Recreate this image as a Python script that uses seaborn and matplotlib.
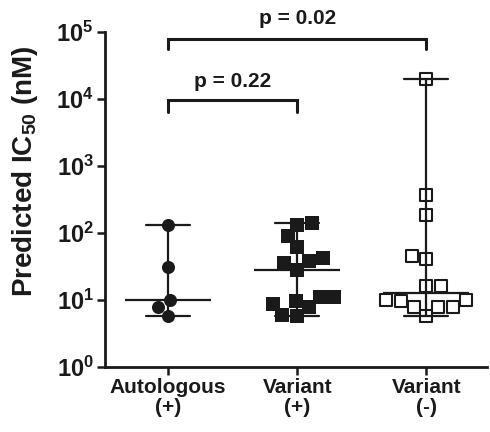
import numpy as np
import pandas as pd
import matplotlib
matplotlib.use("Agg")
import matplotlib.pyplot as plt
import seaborn as sns

categories = ["Autologous\n(+)", "Variant\n(+)", "Variant\n(-)"]
autologous = [131, 31, 10, 7.9, 5.8]
variant_pos = [140, 131, 91, 63, 43, 38.6, 36, 28.6, 11, 11, 9.8, 8.7, 7.8, 6.0, 5.8]
variant_neg = [20000, 375, 186, 45, 40.5, 16, 16, 10.2, 10.2, 9.8, 7.9, 7.9, 7.8, 5.8]
yticks = [1, 10, 100, 1000, 10000, 100000]
ytick_labels = [r"$\mathbf{10^{%d}}$" % i for i in range(6)]
p_labels = ["p = 0.22", "p = 0.02"]

df = pd.DataFrame({
    "group": [categories[0]] * len(autologous) + [categories[1]] * len(variant_pos) + [categories[2]] * len(variant_neg),
    "ic50": autologous + variant_pos + variant_neg,
})

sns.set_theme(style="white")
plt.rcParams["font.family"] = ["Liberation Sans", "DejaVu Sans"]
plt.rcParams["font.weight"] = "bold"
plt.rcParams["mathtext.fontset"] = "custom"
plt.rcParams["mathtext.rm"] = "Liberation Sans:bold"
plt.rcParams["mathtext.bf"] = "Liberation Sans:bold"
plt.rcParams["mathtext.it"] = "Liberation Sans:bold"

fig = plt.figure(figsize=(4.9, 4.32), dpi=100)
ax = fig.add_axes([0.214, 0.150, 0.78, 0.776])
ax.set_yscale("log")
ax.set_ylim(1, 1e5)

styles = [
    dict(marker="o", color="#1a1a1a", edgecolor="#1a1a1a", linewidth=0, size=9.4),
    dict(marker="s", color="#1a1a1a", edgecolor="#1a1a1a", linewidth=0, size=10.2),
    dict(marker="s", color="white", edgecolor="#1a1a1a", linewidth=1.5, size=8.8),
]
for cat, st in zip(categories, styles):
    sub = df[df["group"] == cat]
    sns.swarmplot(data=sub, x="group", y="ic50", order=categories, ax=ax, zorder=3, **st)

# median with range
sns.pointplot(data=df, x="group", y="ic50", order=categories, estimator="median",
              errorbar=("pi", 100), capsize=0.34, linestyle="none", marker="_",
              markersize=62, markeredgewidth=1.6, color="#1a1a1a",
              err_kws={"linewidth": 1.6}, ax=ax, zorder=4)

ax.set_xlim(-0.49, 2.47)
ax.set_yticks(yticks)
ax.set_yticklabels(ytick_labels)
ax.yaxis.set_minor_locator(matplotlib.ticker.NullLocator())
ax.tick_params(axis="both", which="major", direction="out", length=6, width=1.8,
               color="#1a1a1a", labelcolor="#1a1a1a", left=True, bottom=True, pad=2)
ax.tick_params(axis="y", labelsize=17)
for lab in ax.get_xticklabels():
    lab.set_fontsize(15)
    lab.set_fontweight("bold")
    lab.set_linespacing(1.05)

ax.set_xlabel("")
ax.set_ylabel("Predicted IC$_{50}$ (nM)", fontsize=20, fontweight="bold", color="#1a1a1a")
ax.yaxis.set_label_coords(-0.17, 0.585)

for side in ["top", "right"]:
    ax.spines[side].set_visible(False)
for side in ["left", "bottom"]:
    ax.spines[side].set_linewidth(2.0)
    ax.spines[side].set_color("#1a1a1a")

# significance brackets
def bracket(x0, x1, ytop, ybot, text, ytext):
    ax.plot([x0, x0, x1, x1], [ybot, ytop, ytop, ybot], color="#1a1a1a", lw=2.2,
            clip_on=False, solid_joinstyle="miter", zorder=5)
    ax.text((x0 + x1) / 2, ytext, text, ha="center", va="center", fontsize=15,
            fontweight="bold", color="#1a1a1a", clip_on=False)

bracket(0, 1, 9800, 6300, p_labels[0], 1.8e4)
bracket(0, 2, 79000, 55000, p_labels[1], 1.6e5)

fig.savefig("out.png", dpi=100)
